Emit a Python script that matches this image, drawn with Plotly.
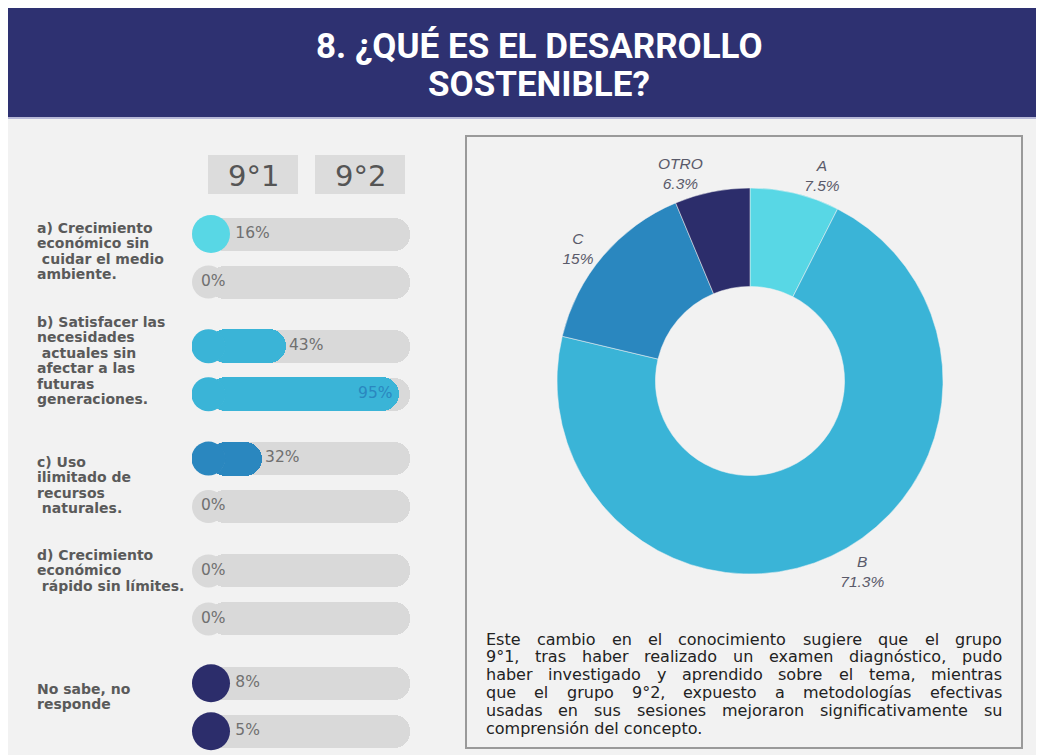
import plotly.graph_objects as go

# Reference canvas is 1044x755; the page body adds an 8px margin, so the
# figure itself is 8px smaller and every reference pixel is shifted by -8.
REF_W, REF_H = 1044, 755
OFF = 8
W, H = REF_W - OFF, REF_H - OFF

# ---------------- data ----------------
title_lines = ["8. ¿QUÉ ES EL DESARROLLO", "SOSTENIBLE?"]
groups = ["9°1", "9°2"]
categories = [
    ["a) Crecimiento", "económico sin", "\u00a0cuidar el medio", "ambiente."],
    ["b) Satisfacer las", "necesidades", "\u00a0actuales sin", "afectar a las", "futuras", "generaciones."],
    ["c) Uso", "ilimitado de", "recursos", "\u00a0naturales."],
    ["d) Crecimiento", "económico", "\u00a0rápido sin límites."],
    ["No sabe, no", "responde"],
]
values_91 = [16, 43, 32, 0, 8]
values_92 = [0, 95, 0, 0, 5]
cat_colors = ["#58d7e5", "#3ab4d7", "#2a87bf", "#2a87bf", "#2c2d6b"]

pie_labels = ["A", "B", "C", "OTRO"]
pie_values = [7.5, 71.3, 15, 6.3]
pie_colors = ["#58d7e5", "#3ab4d7", "#2a87bf", "#2c2d6b"]

paragraph = [
    "Este cambio en el conocimiento sugiere que el grupo",
    "9°1, tras haber realizado un examen diagnóstico, pudo",
    "haber investigado y aprendido sobre el tema, mientras",
    "que el grupo 9°2, expuesto a metodologías efectivas",
    "usadas en sus sesiones mejoraron significativamente su",
    "comprensión del concepto.",
]

# ---------------- helpers ----------------
def px(x):
    return (x - OFF) / W

def py(y):
    return 1 - (y - OFF) / H

BAR_L, BAR_R = 192, 410
def to_data(pxw):
    return pxw / (BAR_R - BAR_L) * 100

# approximate DejaVu Sans advance widths (units per em = 2048) for justification
_DV = {" ": 651, ",": 651, ".": 651, "°": 1024, "E": 1294,
       "a": 1255, "b": 1300, "c": 1126, "d": 1300, "e": 1260, "f": 721, "g": 1300, "h": 1298,
       "i": 569, "j": 569, "k": 1186, "l": 569, "m": 1995, "n": 1298, "o": 1253, "p": 1300,
       "q": 1300, "r": 842, "s": 1067, "t": 803, "u": 1298, "v": 1212, "w": 1675, "x": 1212,
       "y": 1212, "z": 1075, "á": 1255, "é": 1260, "í": 569, "ó": 1253, "ú": 1298}
def text_w(s, size):
    return sum(_DV.get(ch, 1303) for ch in s) * size / 2048

fig = go.Figure()
shapes = []
annotations = []

# page background (reference grey) including the area hidden under margins
shapes.append(dict(type="rect", xref="paper", yref="paper", x0=0, x1=1, y0=0, y1=py(9),
                   fillcolor="#f2f2f2", line=dict(width=0), layer="below"))
# title banner
shapes.append(dict(type="rect", xref="paper", yref="paper", x0=0, x1=1, y0=py(117), y1=py(8),
                   fillcolor="#2e3171", line=dict(width=0), layer="below"))
shapes.append(dict(type="rect", xref="paper", yref="paper", x0=0, x1=1, y0=py(119), y1=py(117),
                   fillcolor="#b8b9d8", line=dict(width=0), layer="below"))
# right panel frame
shapes.append(dict(type="rect", xref="paper", yref="paper", x0=px(466), x1=px(1022), y0=py(748), y1=py(136),
                   fillcolor="rgba(0,0,0,0)", line=dict(color="#9a9a9a", width=2), layer="below"))

for i, t in enumerate(title_lines):
    annotations.append(dict(text=f"<b>{t}</b>", xref="paper", yref="paper", x=px(539), y=py(47 + i * 37),
                            xanchor="center", yanchor="middle", showarrow=False,
                            font=dict(family="Roboto", size=35, color="white")))

# group headers
for i, g in enumerate(groups):
    x0 = 208 + i * 107
    shapes.append(dict(type="rect", xref="paper", yref="paper", x0=px(x0), x1=px(x0 + 90), y0=py(194), y1=py(155),
                       fillcolor="#dcdcdc", line=dict(width=0), layer="below"))
    annotations.append(dict(text=g, xref="paper", yref="paper", x=px(x0 + 45), y=py(176),
                            xanchor="center", yanchor="middle", showarrow=False,
                            font=dict(family="DejaVu Sans", size=29, color="#555555")))

# row positions (reference pixels)
group_top = 234
group_pitch = 112.3
pair_gap = 48
rows_y, rows_v, rows_c = [], [], []
for k in range(len(categories)):
    yc = group_top + k * group_pitch
    for j, vals in enumerate([values_91, values_92]):
        rows_y.append(yc + j * pair_gap)
        rows_v.append(vals[k])
        rows_c.append(cat_colors[k])

R_END = to_data(16.5)      # half bar height, in data units
CAP = to_data(19)          # centre of the round cap for small values
SMALL = to_data(40)        # values narrower than this are drawn as a single dot

# tracks: round left end (dot) + bar with rounded right end
fig.add_trace(go.Bar(orientation="h", y=rows_y, base=[R_END] * len(rows_y), x=[100 - R_END] * len(rows_y),
                     width=33, marker=dict(color="#d9d9d9", line=dict(width=0)),
                     hoverinfo="skip", showlegend=False))
fig.add_trace(go.Scatter(x=[R_END] * len(rows_y), y=rows_y, mode="markers",
                         marker=dict(size=33, color="#d9d9d9", line=dict(width=0)),
                         hoverinfo="skip", showlegend=False))

# fills
big = [i for i, v in enumerate(rows_v) if v >= SMALL]
small = [i for i, v in enumerate(rows_v) if 0 < v < SMALL]
fig.add_trace(go.Bar(orientation="h", y=[rows_y[i] for i in big], base=[R_END] * len(big),
                     x=[rows_v[i] - R_END for i in big], width=34,
                     marker=dict(color=[rows_c[i] for i in big], line=dict(width=0)),
                     customdata=[rows_v[i] for i in big], hovertemplate="%{customdata}%<extra></extra>",
                     showlegend=False))
fig.add_trace(go.Scatter(x=[R_END] * len(big), y=[rows_y[i] for i in big], mode="markers",
                         marker=dict(size=34, color=[rows_c[i] for i in big], line=dict(width=0)),
                         hoverinfo="skip", showlegend=False))
fig.add_trace(go.Scatter(x=[CAP] * len(small), y=[rows_y[i] for i in small], mode="markers",
                         marker=dict(size=38, color=[rows_c[i] for i in small], line=dict(width=0)),
                         customdata=[rows_v[i] for i in small], hovertemplate="%{customdata}%<extra></extra>",
                         showlegend=False))

# value labels
tx, tp, tc = [], [], []
for v in rows_v:
    if v == 0:
        tx.append(to_data(9)); tp.append("middle right"); tc.append("#707070")
    elif v >= 80:
        tx.append(v - 3); tp.append("middle left"); tc.append("#2a87bf")
    else:
        tx.append(max(v, SMALL) + 1.5); tp.append("middle right"); tc.append("#707070")
fig.add_trace(go.Scatter(x=tx, y=rows_y, mode="text", text=[f"{v}%" for v in rows_v], textposition=tp,
                         textfont=dict(family="DejaVu Sans", size=15.5, color=tc),
                         hoverinfo="skip", showlegend=False))

# category labels
label_tops = [228, 322, 462, 555, 689]
for k, lines in enumerate(categories):
    for i, ln in enumerate(lines):
        annotations.append(dict(text=ln, xref="paper", yref="paper", x=px(35), y=py(label_tops[k] + i * 15.4),
                                xanchor="left", yanchor="middle", showarrow=False,
                                font=dict(family="DejaVu Sans", size=14, color="#5a5a5a", weight="bold")))

# donut
PCX, PCY, PR = 750, 381, 193
fig.add_trace(go.Pie(labels=pie_labels, values=pie_values, hole=0.49, sort=False, direction="clockwise",
                     rotation=0, marker=dict(colors=pie_colors, line=dict(color="#f2f2f2", width=0.5)),
                     text=[f"{v:g}%" for v in pie_values], texttemplate="%{label}<br>%{text}",
                     textposition="outside", showlegend=False,
                     outsidetextfont=dict(family="Liberation Sans", size=15.5, color="#5a5a6a", style="italic"),
                     domain=dict(x=[px(PCX - PR), px(PCX + PR)], y=[py(PCY + PR), py(PCY - PR)])))

# paragraph (justified except last line)
P_L, P_R, P_FS = 484, 1000, 16
for i, ln in enumerate(paragraph):
    yy = py(639 + i * 17.8)
    words = ln.split(" ")
    if i == len(paragraph) - 1 or len(words) < 2:
        annotations.append(dict(text=ln, xref="paper", yref="paper", x=px(P_L), y=yy,
                                xanchor="left", yanchor="middle", showarrow=False,
                                font=dict(family="DejaVu Sans", size=P_FS, color="#222222")))
        continue
    ws = [text_w(w, P_FS) for w in words]
    gap = (P_R - P_L - sum(ws)) / (len(words) - 1)
    x = P_L
    for w, wd in zip(words, ws):
        annotations.append(dict(text=w, xref="paper", yref="paper", x=px(x), y=yy,
                                xanchor="left", yanchor="middle", showarrow=False,
                                font=dict(family="DejaVu Sans", size=P_FS, color="#222222")))
        x += wd + gap

fig.update_layout(
    width=W, height=H, margin=dict(l=0, r=0, t=0, b=0),
    paper_bgcolor="#f2f2f2", plot_bgcolor="rgba(0,0,0,0)",
    barmode="overlay", barcornerradius=17, bargap=0,
    xaxis=dict(domain=[px(BAR_L), px(BAR_R)], range=[0, 100], visible=False, fixedrange=True),
    yaxis=dict(domain=[0, 1], range=[REF_H, OFF], visible=False, fixedrange=True),
    shapes=shapes, annotations=annotations,
)

fig.write_html("out.html")
